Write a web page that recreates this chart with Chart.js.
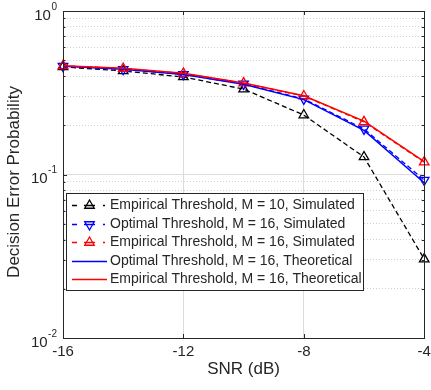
<!DOCTYPE html>
<html>
<head>
<meta charset="utf-8">
<script src="https://cdn.jsdelivr.net/npm/chart.js@4/dist/chart.umd.min.js"></script>
<style>
  html, body { margin: 0; padding: 0; background: #fff; }
</style>
</head>
<body>
<canvas id="myChart" width="431" height="390"></canvas>
<script>
// SNR values (dB) //
const snr = [-16, -14, -12, -10, -8, -6, -4];
// simulated curves //
const empM10Sim = [0.455, 0.43, 0.395, 0.333, 0.231, 0.128, 0.0304];
const optM16Sim = [0.46, 0.44, 0.41, 0.358, 0.29, 0.19, 0.0925];
const empM16Sim = [0.462, 0.445, 0.415, 0.362, 0.302, 0.21, 0.119];
// theoretical curves //
const optM16Theo = [0.46, 0.44, 0.409, 0.356, 0.287, 0.186, 0.089];
const empM16Theo = [0.462, 0.446, 0.416, 0.363, 0.303, 0.212, 0.12];
// tick labels //
const xTicks = [-16, -12, -8, -4];
const yMajor = [1, 0.1, 0.01];
const yExp = ["0", "-1", "-2"];
const yTitle = "Decision Error Probability";
const legendLabels = [
  "Empirical Threshold, M = 10, Simulated",
  "Optimal Threshold, M = 16, Simulated",
  "Empirical Threshold, M = 16, Simulated",
  "Optimal Threshold, M = 16, Theoretical",
  "Empirical Threshold, M = 16, Theoretical"
];

const axisColor = "#262626";
const font = "'Liberation Sans', Arial, sans-serif";

// all y ticks: 1..9 per decade //
function yTickValues() {
  const out = [];
  for (let e = -2; e <= 0; e++) {
    for (let m = 1; m <= 9; m++) {
      const v = m * Math.pow(10, e);
      if (v <= 1.0000001) out.push(v);
    }
  }
  return out;
}
function isMajor(v) {
  const l = Math.log10(v);
  return Math.abs(l - Math.round(l)) < 1e-6;
}

// draws box, inward ticks, tick labels, y title and the legend //
const decor = {
  id: "decor",
  afterDraw(chart) {
    const ctx = chart.ctx;
    const a = chart.chartArea;
    const xs = chart.scales.x, ys = chart.scales.y;
    ctx.save();
    ctx.strokeStyle = axisColor;
    ctx.lineWidth = 1;
    // box
    ctx.strokeRect(Math.round(a.left) + 0.5, Math.round(a.top) + 0.5,
      Math.round(a.right - a.left), Math.round(a.bottom - a.top));
    // x ticks inward
    ctx.beginPath();
    xTicks.forEach(v => {
      const px = Math.round(xs.getPixelForValue(v)) + 0.5;
      ctx.moveTo(px, a.bottom); ctx.lineTo(px, a.bottom - 4);
      ctx.moveTo(px, a.top); ctx.lineTo(px, a.top + 4);
    });
    // y ticks inward
    yTickValues().forEach(v => {
      const py = Math.round(ys.getPixelForValue(v)) + 0.5;
      const len = isMajor(v) ? 4 : 2.5;
      ctx.moveTo(a.left, py); ctx.lineTo(a.left + len, py);
      ctx.moveTo(a.right, py); ctx.lineTo(a.right - len, py);
    });
    ctx.stroke();

    // tick labels
    ctx.fillStyle = axisColor;
    ctx.font = "15px " + font;
    ctx.textAlign = "center";
    ctx.textBaseline = "middle";
    xTicks.forEach(v => {
      ctx.fillText(String(v), xs.getPixelForValue(v), 352);
    });
    yMajor.forEach((v, i) => {
      const py = ys.getPixelForValue(v);
      ctx.font = "10px " + font;
      const ew = ctx.measureText(yExp[i]).width;
      ctx.textAlign = "right";
      ctx.fillText(yExp[i], 57, py - 4);
      ctx.font = "15px " + font;
      ctx.fillText("10", 57 - ew - 0.5, py + 4.5);
    });

    // y title
    ctx.save();
    ctx.translate(14, 182);
    ctx.rotate(-Math.PI / 2);
    ctx.font = "17px " + font;
    ctx.textAlign = "center";
    ctx.fillText(yTitle, 0, 0);
    ctx.restore();

    // legend
    const bx = 66, by = 193, bw = 297, bh = 97;
    ctx.fillStyle = "#fff";
    ctx.fillRect(bx, by, bw, bh);
    ctx.strokeStyle = axisColor;
    ctx.strokeRect(bx + 0.5, by + 0.5, bw, bh);
    ctx.font = "14px " + font;
    ctx.textAlign = "left";
    chart.data.datasets.forEach((ds, i) => {
      const ry = Math.round(by + 12 + i * 18.6) + 0.5;
      ctx.strokeStyle = ds.borderColor;
      ctx.lineWidth = ds.borderWidth;
      ctx.setLineDash([]);
      ctx.beginPath();
      if (ds.pointRadius > 0) {
        // dash - marker - dot, like the simulated line sample
        ctx.moveTo(72, ry); ctx.lineTo(77, ry);
        ctx.moveTo(84, ry); ctx.lineTo(95, ry);
        ctx.moveTo(103, ry); ctx.lineTo(105, ry);
      } else {
        ctx.moveTo(72, ry); ctx.lineTo(107, ry);
      }
      ctx.stroke();
      if (ds.pointRadius > 0) {
        ctx.fillStyle = "rgba(0,0,0,0)";
        ctx.lineWidth = ds.pointBorderWidth;
        Chart.helpers.drawPoint(ctx, {
          pointStyle: "triangle",
          radius: ds.pointRadius,
          rotation: ds.pointRotation || 0,
          borderWidth: ds.pointBorderWidth
        }, 89.5, ry);
      }
      ctx.fillStyle = axisColor;
      ctx.fillText(legendLabels[i], 110, ry);
    });
    ctx.restore();
  }
};

new Chart("myChart", {
  type: "line",
  data: {
    labels: snr,
    datasets: [
      // M = 10 simulated //
      {
        data: empM10Sim.map((v, i) => ({ x: snr[i], y: v })),
        borderColor: "#000000",
        borderWidth: 1.3,
        borderDash: [5, 3],
        pointStyle: "triangle",
        pointRadius: 5.5,
        pointBorderWidth: 1.3,
        pointBackgroundColor: "rgba(0,0,0,0)",
        order: 4
      },
      // optimal simulated //
      {
        data: optM16Sim.map((v, i) => ({ x: snr[i], y: v })),
        borderColor: "#0000ff",
        borderWidth: 1.3,
        borderDash: [5, 3],
        pointStyle: "triangle",
        pointRotation: 180,
        pointRadius: 5.5,
        pointBorderWidth: 1.3,
        pointBackgroundColor: "rgba(0,0,0,0)",
        order: 3
      },
      // empirical simulated //
      {
        data: empM16Sim.map((v, i) => ({ x: snr[i], y: v })),
        borderColor: "#ff0000",
        borderWidth: 1.3,
        borderDash: [5, 3],
        pointStyle: "triangle",
        pointRadius: 5.5,
        pointBorderWidth: 1.3,
        pointBackgroundColor: "rgba(0,0,0,0)",
        order: 2
      },
      // optimal theoretical //
      {
        data: optM16Theo.map((v, i) => ({ x: snr[i], y: v })),
        borderColor: "#0000ff",
        borderWidth: 1.5,
        pointRadius: 0,
        order: 1
      },
      // empirical theoretical //
      {
        data: empM16Theo.map((v, i) => ({ x: snr[i], y: v })),
        borderColor: "#ff0000",
        borderWidth: 1.5,
        pointRadius: 0,
        order: 0
      }
    ]
  },
  options: {
    responsive: false,
    animation: false,
    devicePixelRatio: 1,
    layout: { padding: { left: 0, right: 6, top: 11, bottom: 0 } },
    datasets: { line: { clip: false, tension: 0 } },
    plugins: { legend: { display: false }, tooltip: { enabled: false } },
    scales: {
      x: {
        type: "linear",
        min: -16,
        max: -4,
        afterBuildTicks: s => { s.ticks = xTicks.map(v => ({ value: v })); },
        afterFit: s => { s.height = 52; },
        ticks: { display: false },
        grid: { color: "#dcdcdc", drawTicks: false, lineWidth: 1 },
        border: { color: axisColor, width: 1 },
        title: {
          display: true,
          text: "SNR (dB)",
          color: axisColor,
          font: { family: font, size: 17 },
          padding: { top: 4, bottom: 10 }
        }
      },
      y: {
        type: "logarithmic",
        min: 0.01,
        max: 1,
        afterBuildTicks: s => { s.ticks = yTickValues().map(v => ({ value: v })); },
        afterFit: s => { s.width = 63; },
        ticks: { display: false },
        grid: {
          drawTicks: false,
          lineWidth: 1,
          color: c => (c.tick && isMajor(c.tick.value)) ? "#dcdcdc" : "#d0d0d0"
        },
        border: {
          color: axisColor,
          width: 1,
          dash: c => (c.tick && !isMajor(c.tick.value)) ? [1, 2] : []
        },
        title: { display: false }
      }
    }
  },
  plugins: [decor]
});
</script>
</body>
</html>
